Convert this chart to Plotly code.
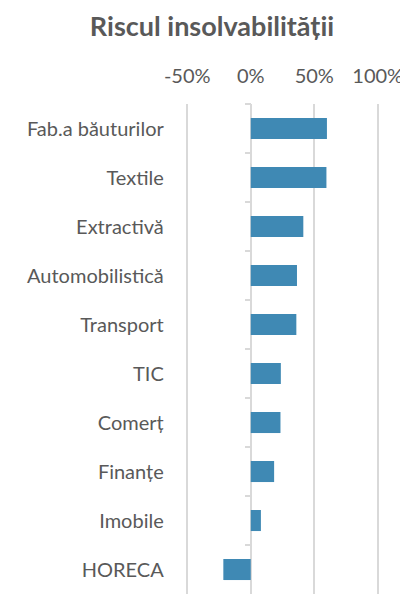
import plotly.graph_objects as go

categories = ["Fab.a băuturilor", "Textile", "Extractivă", "Automobilistică", "Transport",
              "TIC", "Comerț", "Finanțe", "Imobile", "HORECA"]
values = [0.60, 0.596, 0.414, 0.364, 0.359, 0.237, 0.234, 0.184, 0.08, -0.216]
x_tickvals = [-0.5, 0, 0.5, 1.0]
x_ticktext = ["-50%", "0%", "50%", "100%"]
title_text = "Riscul insolvabilității"

# page body has an 8px margin; the figure is sized to fill the rest of the window
W, H = 400, 591
grid = "#d9d9d9"
txt = "#595959"
font_family = "Lato, 'Open Sans', sans-serif"

xmin, xmax = -0.51, 1.01
px_per_unit = 128.0
ml = 179 - int(round(0.01 * px_per_unit))
plot_w = (xmax - xmin) * px_per_unit
mr = int(round(W - ml - plot_w))
mt, mb = 96, 5
zero_pos = (0 - xmin) / (xmax - xmin)

fig = go.Figure(go.Bar(
    y=categories, x=values, orientation="h",
    marker=dict(color="#3f89b4", line=dict(width=0)),
    hoverinfo="skip",
))

fig.update_layout(
    width=W, height=H,
    margin=dict(l=ml, r=mr, t=mt, b=mb, pad=0),
    paper_bgcolor="white", plot_bgcolor="white",
    showlegend=False,
    bargap=0.57,
    font=dict(family=font_family, color=txt, size=20),
    title=dict(text="<b>" + title_text + "</b>", x=204 / W, xanchor="center",
               y=1 - 19 / H, yanchor="middle",
               font=dict(size=27, color=txt, family=font_family)),
    xaxis=dict(
        side="top", range=[xmin, xmax],
        tickvals=x_tickvals, ticktext=x_ticktext,
        showgrid=True, gridcolor=grid, gridwidth=2,
        zeroline=True, zerolinecolor=grid, zerolinewidth=2,
        showline=False, ticks="", ticklabelstandoff=16,
        tickfont=dict(size=20, color=txt),
        fixedrange=True,
    ),
    yaxis=dict(
        categoryorder="array", categoryarray=categories, autorange="reversed",
        anchor="free", position=zero_pos,
        ticks="outside", tickson="boundaries", ticklen=6, tickcolor=grid, tickwidth=2,
        showline=False, showgrid=False, zeroline=False,
        ticklabelstandoff=87,
        tickfont=dict(size=20, color=txt),
        fixedrange=True,
    ),
)

fig.write_html("out.html")
